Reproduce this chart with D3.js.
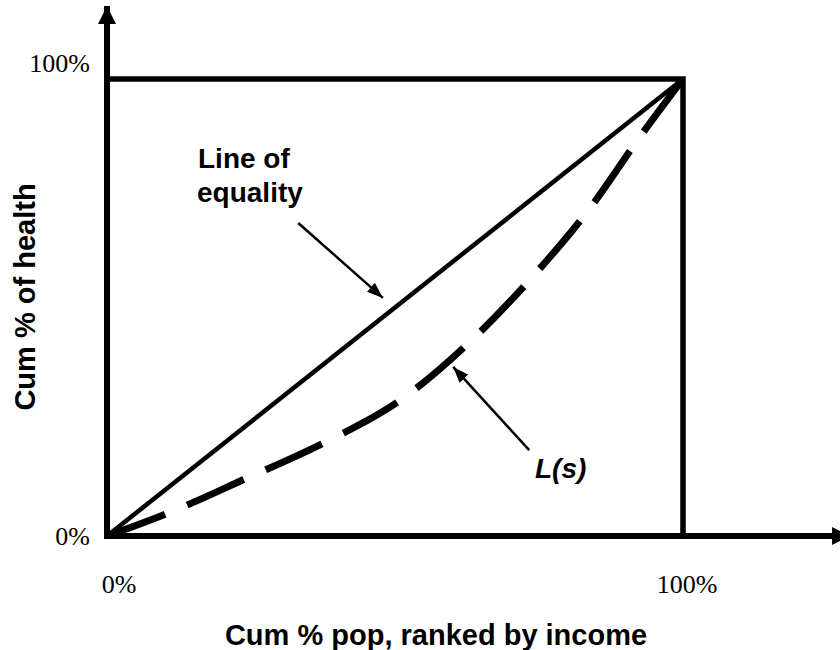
<!DOCTYPE html>
<html>
<head>
<meta charset="utf-8">
<script src="https://cdn.jsdelivr.net/npm/d3@7"></script>
<style>
  body { margin: 0; background: #fff; }
  .tick-label { font-family: "Liberation Serif", "Times New Roman", serif; font-size: 26px; }
  .title { font-family: "Liberation Sans", Arial, sans-serif; font-size: 29px; font-weight: bold; }
  .note { font-family: "Liberation Sans", Arial, sans-serif; font-size: 28px; font-weight: bold; }
</style>
</head>
<body>
<svg id="chart" width="840" height="650"></svg>
<script>
// cumulative population share (ranked by income) and cumulative health share
var popShare = [0, 0.1, 0.24, 0.38, 0.51, 0.63, 0.74, 0.84, 0.925, 1];
var healthShare = [0, 0.047, 0.125, 0.206, 0.298, 0.425, 0.569, 0.72, 0.873, 1];
var equality = [0, 1];
var tickValues = [0, 1];
var tickLabels = ["0%", "100%"];

var svg = d3.select("#chart");

var x = d3.scaleLinear().domain([0, 1]).range([107, 683]);
var y = d3.scaleLinear().domain([0, 1]).range([536, 79]);

var defs = svg.append("defs");
defs.append("marker")
  .attr("id", "axisHead")
  .attr("markerUnits", "userSpaceOnUse")
  .attr("viewBox", "0 0 18 18")
  .attr("refX", 18).attr("refY", 9)
  .attr("markerWidth", 18).attr("markerHeight", 18)
  .attr("orient", "auto")
  .append("path").attr("d", "M0,0 L18,9 L0,18 Z").attr("fill", "#000");
defs.append("marker")
  .attr("id", "noteHead")
  .attr("markerUnits", "userSpaceOnUse")
  .attr("viewBox", "0 0 16 12")
  .attr("refX", 16).attr("refY", 6)
  .attr("markerWidth", 16).attr("markerHeight", 12)
  .attr("orient", "auto")
  .append("path").attr("d", "M0,0 L16,6 L0,12 Z").attr("fill", "#000");

// box (top and right sides)
svg.append("path")
  .attr("d", "M" + x(0) + "," + y(1) + "H" + x(1) + "V" + y(0))
  .attr("fill", "none").attr("stroke", "#000").attr("stroke-width", 5.5);

// axes with arrow heads
svg.append("line")
  .attr("x1", x(0)).attr("y1", y(0) + 3)
  .attr("x2", x(0)).attr("y2", y(1.16))
  .attr("stroke", "#000").attr("stroke-width", 6)
  .attr("marker-end", "url(#axisHead)");
svg.append("line")
  .attr("x1", x(0) - 3).attr("y1", y(0))
  .attr("x2", x(1.29)).attr("y2", y(0))
  .attr("stroke", "#000").attr("stroke-width", 6)
  .attr("marker-end", "url(#axisHead)");

// line of equality
var line = d3.line().x(function (d) { return x(d); }).y(function (d) { return y(d); });
svg.append("path")
  .attr("d", line(equality))
  .attr("fill", "none").attr("stroke", "#000").attr("stroke-width", 4.5);

// concentration curve L(s)
var curve = d3.line()
  .x(function (d, i) { return x(popShare[i]); })
  .y(function (d) { return y(d); })
  .curve(d3.curveMonotoneX);
svg.append("path")
  .attr("d", curve(healthShare))
  .attr("fill", "none").attr("stroke", "#000").attr("stroke-width", 7)
  .attr("stroke-dasharray", "62,24");

// tick labels
svg.selectAll("text.ytick").data(tickValues).enter()
  .append("text").attr("class", "tick-label")
  .attr("text-anchor", "end")
  .attr("x", x(0) - 17)
  .attr("y", function (d) { return d === 0 ? y(d) + 9 : y(d) - 7; })
  .text(function (d, i) { return tickLabels[i]; });
svg.selectAll("text.xtick").data(tickValues).enter()
  .append("text").attr("class", "tick-label")
  .attr("text-anchor", "middle")
  .attr("x", function (d) { return d === 0 ? x(d) + 12 : x(d) + 4; })
  .attr("y", y(0) + 57)
  .text(function (d, i) { return tickLabels[i]; });

// axis titles
svg.append("text").attr("class", "title")
  .attr("text-anchor", "middle")
  .attr("x", 436).attr("y", 645)
  .text("Cum % pop, ranked by income");
svg.append("text").attr("class", "title")
  .attr("text-anchor", "middle")
  .attr("transform", "translate(35,297) rotate(-90)")
  .text("Cum % of health");

// annotations
svg.append("text").attr("class", "note").attr("x", 198).attr("y", 168).text("Line of");
svg.append("text").attr("class", "note").attr("x", 197).attr("y", 202).text("equality");
svg.append("line")
  .attr("x1", x(0.332)).attr("y1", y(0.685))
  .attr("x2", x(0.479)).attr("y2", y(0.521))
  .attr("stroke", "#000").attr("stroke-width", 2.5)
  .attr("marker-end", "url(#noteHead)");

svg.append("text").attr("class", "note")
  .attr("font-style", "italic")
  .attr("x", 535).attr("y", 478).text("L(s)");
svg.append("line")
  .attr("x1", x(0.733)).attr("y1", y(0.188))
  .attr("x2", x(0.601)).attr("y2", y(0.37))
  .attr("stroke", "#000").attr("stroke-width", 2.5)
  .attr("marker-end", "url(#noteHead)");
</script>
</body>
</html>
